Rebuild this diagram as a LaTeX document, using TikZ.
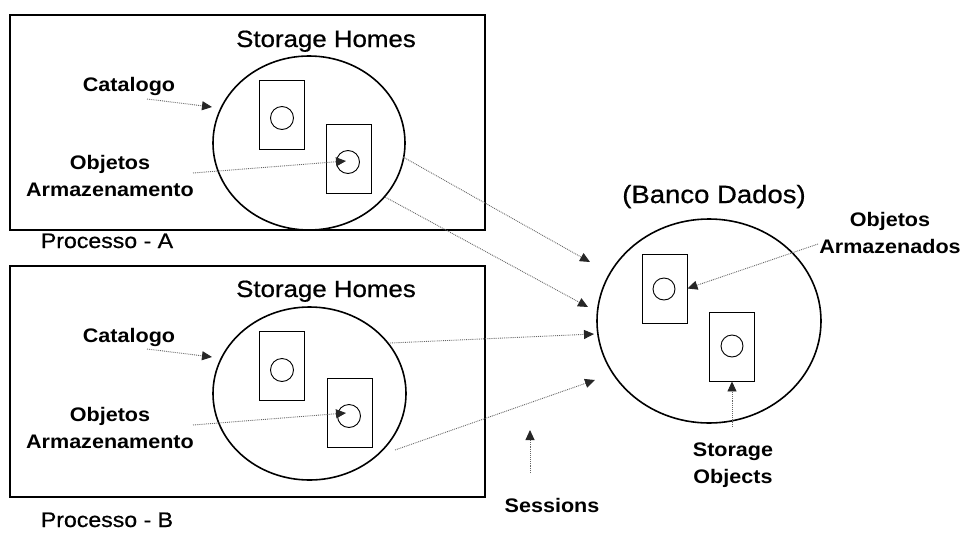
\documentclass[tikz,border=0pt]{standalone}
\usepackage{fontspec}
\setmainfont{Liberation Sans}[FakeStretch=1.1]
\newfontfamily\medfont{Liberation Sans}[FakeStretch=1.1,FakeBold=0.7]
\usetikzlibrary{arrows.meta,shapes.geometric}
\begin{document}
\begin{tikzpicture}[x=1pt,y=-1pt,
  procbox/.style={draw, rectangle, line width=1.8pt, inner sep=0pt},
  home/.style={draw, ellipse, line width=1.6pt, inner sep=0pt},
  objbox/.style={draw, rectangle, line width=0.9pt, inner sep=0pt, minimum width=45pt, minimum height=69pt},
  objdot/.style={draw, circle, line width=0.9pt, inner sep=0pt, minimum size=23pt},
  lbl/.style={font=\bfseries\fontsize{19.6}{26.5}\selectfont, align=center, inner sep=0pt},
  title/.style={font=\medfont\fontsize{23.5}{26}\selectfont, inner sep=0pt, anchor=base},
  plbl/.style={font=\medfont\fontsize{21}{24}\selectfont, inner sep=0pt, anchor=base},
  ptr/.style={densely dotted, line width=0.9pt, black!60, -{Triangle[length=10pt,width=9pt,color=black!85]}}
]
\useasboundingbox (0,0) rectangle (967,536);

% process boxes
\node[procbox, minimum width=475pt, minimum height=215pt] (pA) at (247.5,122.5) {};
\node[procbox, minimum width=475pt, minimum height=231pt] (pB) at (247.5,381.5) {};

% storage homes ellipses
\node[home, minimum width=192pt, minimum height=174pt] (eA) at (309,143) {};
\node[home, minimum width=193pt, minimum height=173pt] (eB) at (309.5,393.5) {};
\node[home, minimum width=224pt, minimum height=204pt] (eC) at (709,321) {};

% objects inside homes
\node[objbox] (rA1) at (281.5,114.5) {};
\node[objdot] (cA1) at (282,118) {};
\node[objbox] (rA2) at (349,159) {};
\node[objdot] (cA2) at (348,162) {};
\node[objbox] (rB1) at (282,366) {};
\node[objdot] (cB1) at (282,370) {};
\node[objbox] (rB2) at (350,412.5) {};
\node[objdot] (cB2) at (349,416) {};
\node[objbox] (rC1) at (664.5,288.5) {};
\node[objdot, minimum size=22pt] (cC1) at (664,289) {};
\node[objbox] (rC2) at (732,346.5) {};
\node[objdot, minimum size=22pt] (cC2) at (732,346) {};

% labels
\node[title] (tA) at (326,47) {Storage Homes};
\node[title] (tB) at (326,297) {Storage Homes};
\node[title, font=\medfont\fontsize{25}{26}\selectfont] (tC) at (714,203) {(Banco Dados)};
\node[lbl, anchor=base] (catA) at (129,91) {Catalogo};
\node[lbl, anchor=base] (catB) at (129,342) {Catalogo};
\node[lbl] (objA) at (110,176) {Objetos\\Armazenamento};
\node[lbl] (objB) at (110,428) {Objetos\\Armazenamento};
\node[plbl] (procA) at (107,248) {Processo - A};
\node[plbl] (procB) at (107,527) {Processo - B};
\node[lbl] (objC) at (890,233) {Objetos\\Armazenados};
\node[lbl] (stoC) at (733,465) {Storage\\Objects};
\node[lbl, anchor=base] (sess) at (552,512) {Sessions};

% free ends
\coordinate (catAs) at (147,99);
\coordinate (catAe) at (212,107);
\coordinate (catBs) at (147,349);
\coordinate (catBe) at (212,357);
\coordinate (objAs) at (193,173);
\coordinate (objAe) at (346,161);
\coordinate (objBs) at (193,425);
\coordinate (objBe) at (346,413);
\coordinate (s1s) at (403,157);
\coordinate (s1e) at (590,262);
\coordinate (s2s) at (385,197);
\coordinate (s2e) at (588,307);
\coordinate (s3s) at (390,343);
\coordinate (s3e) at (594,334);
\coordinate (s4s) at (395,450);
\coordinate (s4e) at (595,380);
\coordinate (sesS) at (530,473);
\coordinate (sesE) at (530,430);
\coordinate (objCs) at (818,244);
\coordinate (stoCs) at (732,427);

% connectors
\draw[ptr] (catAs) -- (catAe);
\draw[ptr] (catBs) -- (catBe);
\draw[ptr] (objAs) -- (objAe);
\draw[ptr] (objBs) -- (objBe);
\draw[ptr] (s1s) -- (s1e);
\draw[ptr] (s2s) -- (s2e);
\draw[ptr] (s3s) -- (s3e);
\draw[ptr] (s4s) -- (s4e);
\draw[ptr] (sesS) -- (sesE);
\draw[ptr] (objCs) -- (rC1.east);
\draw[ptr] (stoCs) -- (rC2.south);
\end{tikzpicture}
\end{document}
